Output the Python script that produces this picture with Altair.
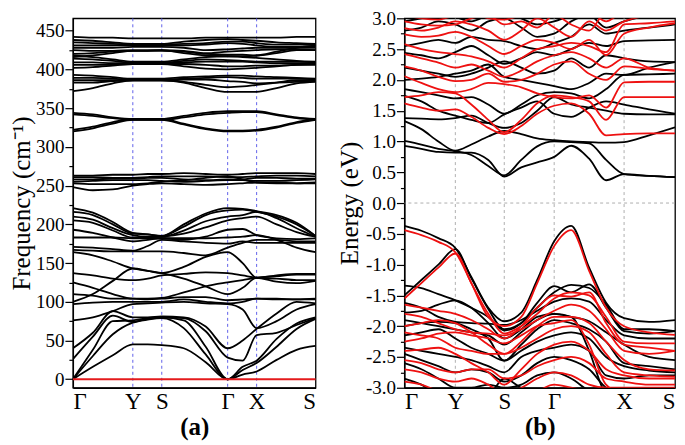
import altair as alt
import pandas as pd

FONT = "Liberation Serif"

# ---------------- phonon panel (a) ----------------
PH_K = [0, 20, 40, 60, 75, 89, 111, 133, 155, 170, 184, 204, 224, 243]
PH_TICKS = [0, 60, 89, 155, 184, 243]
PH_LABELS = ["Γ", "Y", "S", "Γ", "X", "S"]

phonon_low = [
    [0, 16, 31, 45, 45, 44, 40, 22, 0, 6, 10, 25, 38, 43],
    [0, 30, 58, 73, 77, 79, 66, 32, 0, 12, 21, 42, 65, 78],
    [0, 38, 75, 76, 79, 80, 76, 42, 0, 16, 24, 52, 72, 80],
    [26, 55, 82, 74, 78, 80, 79, 62, 28, 24, 57, 60, 70, 79],
    [40, 60, 88, 80, 80, 81, 80, 68, 40, 50, 65, 85, 100, 98],
    [76, 80, 88, 97, 98, 99, 100, 98, 97, 90, 66, 75, 90, 97],
    [97, 99, 100, 100, 100, 100, 103, 100, 98, 100, 104, 104, 103, 103],
    [100, 110, 127, 143, 140, 137, 130, 120, 110, 118, 131, 126, 124, 127],
    [110, 108, 104, 104, 103, 104, 106, 106, 102, 103, 104, 103, 103, 104],
    [125, 118, 110, 104, 104, 105, 112, 120, 125, 128, 131, 133, 135, 135],
    [137, 134, 130, 128, 130, 134, 136, 138, 137, 134, 131, 130, 128, 128],
    [164, 160, 152, 143, 140, 137, 145, 158, 164, 150, 131, 134, 136, 136],
    [167, 166, 165, 165, 165, 165, 163, 160, 170, 176, 180, 180, 178, 178],
    [171, 170, 168, 166, 172, 180, 178, 176, 175, 178, 176, 176, 176, 176],
    [183, 183, 183, 182, 182, 182, 182, 182, 183, 184, 186, 180, 170, 164],
    [193, 189, 183, 178, 180, 182, 180, 184, 193, 194, 186, 182, 181, 182],
    [205, 202, 192, 183, 183, 184, 188, 196, 205, 208, 210, 200, 190, 184],
    [210, 206, 195, 186, 184, 184, 192, 204, 210, 212, 216, 208, 195, 184],
    [216, 212, 200, 188, 187, 185, 197, 212, 218, 219, 216, 210, 200, 185],
    [221, 215, 203, 189, 187, 185, 200, 214, 221, 220, 217, 212, 202, 185],
]
phonon_mid = [
    [344, 342, 338, 336, 336, 336, 340, 344, 346, 346, 346, 342, 338, 336],
    [342, 340, 337, 335, 335, 335, 338, 342, 344, 345, 345, 341, 337, 335],
    [322, 326, 332, 336, 336, 336, 330, 324, 321, 321, 322, 326, 332, 336],
    [320, 324, 330, 335, 335, 335, 329, 323, 320, 320, 321, 325, 331, 335],
    [263, 263, 264, 264, 265, 265, 266, 265, 264, 265, 266, 266, 266, 265],
    [261, 261, 260, 260, 261, 262, 262, 262, 261, 261, 262, 263, 263, 262],
    [258, 258, 259, 259, 260, 260, 258, 257, 258, 258, 260, 260, 259, 259],
    [255, 256, 257, 257, 257, 256, 255, 256, 257, 257, 256, 256, 257, 258],
    [253, 252, 252, 252, 253, 255, 257, 260, 262, 258, 254, 253, 253, 254],
    [248, 244, 245, 250, 252, 253, 252, 251, 252, 253, 254, 254, 253, 253],
]
phonon_high = [
    [372, 376, 382, 386, 386, 386, 383, 376, 371, 371, 371, 376, 382, 384],
    [383, 383, 385, 386, 386, 386, 384, 380, 377, 378, 380, 383, 386, 386],
    [386, 386, 386, 386, 386, 386, 387, 387, 385, 384, 382, 383, 384, 385],
    [389, 389, 388, 387, 387, 387, 388, 389, 390, 389, 388, 388, 388, 387],
    [393, 392, 390, 388, 388, 388, 390, 391, 392, 392, 391, 390, 389, 388],
    [402, 403, 405, 407, 407, 407, 404, 401, 400, 401, 402, 404, 406, 406],
    [406, 406, 406, 407, 407, 407, 407, 406, 404, 404, 405, 405, 406, 407],
    [409, 409, 408, 408, 408, 408, 409, 410, 410, 410, 409, 408, 408, 408],
    [414, 413, 411, 409, 409, 409, 411, 413, 412, 411, 410, 410, 410, 409],
    [418, 416, 413, 410, 410, 410, 413, 416, 417, 416, 415, 413, 411, 410],
    [442, 441, 441, 440, 440, 440, 440, 441, 441, 441, 441, 441, 442, 442],
    [438, 437, 435, 433, 433, 433, 436, 438, 439, 438, 437, 435, 434, 433],
    [435, 434, 433, 432, 432, 432, 433, 434, 436, 436, 434, 432, 432, 432],
    [431, 431, 431, 431, 431, 431, 431, 432, 434, 433, 431, 429, 429, 430],
    [428, 428, 428, 429, 429, 429, 428, 425, 426, 427, 428, 428, 428, 428],
    [425, 424, 424, 425, 425, 425, 424, 421, 423, 424, 425, 426, 426, 425],
    [420, 421, 423, 424, 424, 424, 423, 420, 419, 419, 418, 421, 425, 425],
    [416, 418, 421, 424, 424, 425, 421, 418, 417, 417, 418, 423, 428, 431],
]
acoustic_k = [0, 243]
acoustic_v = [0, 0]
PH_YTICKS = list(range(0, 451, 25))

# ---------------- electronic panel (b) ----------------
EL_K = [0, 17, 34, 51, 67, 84, 100, 117, 133, 150, 167, 185, 202, 220, 245, 271]
EL_TICKS = [0, 51, 100, 150, 220, 271]
EL_LABELS = ["Γ", "Y", "S", "Γ", "X", "S"]

black_cond = [
    [0.93, 0.88, 0.83, 0.82, 0.82, 0.70, 0.43, 0.58, 0.66, 0.75, 0.93, 0.72, 0.37, 0.47, 0.44, 0.42],
    [1.01, 0.95, 0.88, 0.84, 0.78, 0.60, 0.45, 0.70, 0.92, 1.00, 0.99, 0.97, 0.70, 0.47, 0.44, 0.42],
    [1.33, 1.20, 1.00, 0.85, 0.95, 1.08, 1.17, 1.12, 1.05, 1.02, 1.00, 0.99, 0.98, 0.99, 1.10, 1.23],
    [1.38, 1.37, 1.36, 1.38, 1.42, 1.30, 1.22, 1.30, 1.50, 1.72, 1.60, 1.55, 1.50, 1.45, 1.44, 1.44],
    [1.74, 1.65, 1.50, 1.42, 1.35, 1.30, 1.44, 1.55, 1.65, 1.45, 1.40, 1.55, 1.65, 1.60, 1.52, 1.45],
    [1.85, 1.80, 1.75, 1.70, 1.72, 1.60, 1.45, 1.60, 1.75, 1.80, 1.78, 1.70, 1.85, 2.08, 2.09, 2.10],
    [2.00, 2.02, 2.05, 2.10, 2.15, 2.25, 2.05, 2.00, 1.95, 1.90, 1.85, 1.95, 2.10, 2.08, 2.20, 2.29],
    [2.20, 2.15, 2.10, 2.05, 2.10, 2.20, 2.30, 2.20, 2.10, 2.15, 2.35, 2.20, 2.40, 2.35, 2.30, 2.29],
    [2.44, 2.40, 2.35, 2.45, 2.55, 2.40, 2.26, 2.35, 2.45, 2.40, 2.50, 2.60, 2.55, 2.63, 2.64, 2.65],
    [2.55, 2.60, 2.65, 2.60, 2.70, 2.65, 2.63, 2.55, 2.50, 2.60, 2.70, 2.90, 2.75, 2.80, 2.85, 2.90],
    [2.80, 2.85, 2.95, 2.90, 2.80, 2.95, 3.00, 2.85, 2.70, 2.75, 2.95, 3.05, 2.85, 2.95, 3.05, 3.10],
    [2.95, 3.00, 3.05, 3.02, 2.95, 3.05, 3.10, 3.00, 2.90, 2.95, 3.05, 3.10, 3.05, 3.10, 3.10, 3.10],
]
black_val = [
    [-0.37, -0.45, -0.57, -0.73, -1.20, -1.70, -1.92, -1.78, -1.25, -0.62, -0.37, -1.05, -1.62, -1.87, -1.93, -1.90],
    [-1.50, -1.25, -1.00, -0.75, -1.22, -1.72, -2.05, -1.95, -1.70, -1.45, -1.33, -1.38, -1.65, -2.05, -2.05, -2.08],
    [-1.34, -1.38, -1.48, -1.58, -1.70, -1.85, -2.07, -1.95, -1.62, -1.35, -1.45, -1.32, -1.70, -2.08, -2.12, -2.08],
    [-1.62, -1.70, -1.85, -1.93, -1.95, -1.96, -1.98, -1.90, -1.75, -1.60, -1.55, -1.60, -1.90, -2.15, -2.20, -2.20],
    [-1.78, -1.75, -1.65, -1.58, -1.70, -1.95, -2.20, -2.05, -1.85, -1.80, -1.85, -1.92, -2.10, -2.30, -2.50, -2.55],
    [-2.00, -1.95, -1.93, -1.95, -2.05, -2.20, -2.56, -2.30, -2.05, -1.90, -1.95, -2.05, -2.25, -2.60, -2.65, -2.70],
    [-2.15, -2.10, -2.05, -2.20, -2.35, -2.45, -2.56, -2.40, -2.25, -2.15, -2.10, -2.20, -2.50, -2.65, -2.72, -2.75],
    [-2.35, -2.40, -2.45, -2.50, -2.55, -2.65, -2.75, -2.50, -2.40, -2.35, -2.30, -2.40, -2.80, -2.85, -2.80, -2.80],
    [-2.45, -2.55, -2.65, -2.75, -2.70, -2.75, -2.90, -2.80, -2.60, -2.50, -2.55, -2.70, -3.00, -3.10, -3.10, -3.10],
    [-2.60, -2.70, -2.85, -3.00, -3.00, -2.95, -3.00, -2.95, -2.80, -2.75, -2.85, -3.05, -3.15, -3.20, -3.20, -3.20],
    [-2.85, -2.95, -3.10, -3.10, -3.10, -3.10, -2.85, -3.00, -3.10, -3.10, -3.10, -3.20, -3.25, -3.25, -3.25, -3.25],
    [-1.90, -1.95, -2.00, -2.05, -2.10, -2.15, -2.30, -2.10, -1.90, -1.80, -1.85, -2.40, -3.10, -3.20, -3.20, -3.20],
]
red_cond = [
    [1.62, 1.55, 1.50, 1.52, 1.40, 1.22, 1.12, 1.25, 1.45, 1.58, 1.62, 1.45, 1.10, 1.12, 1.13, 1.13],
    [1.72, 1.75, 1.80, 1.78, 1.60, 1.35, 1.15, 1.35, 1.62, 1.75, 1.72, 1.65, 1.35, 1.72, 1.72, 1.72],
    [2.06, 1.95, 1.85, 1.80, 1.85, 1.95, 1.93, 1.88, 1.78, 1.72, 1.70, 1.75, 1.55, 1.96, 1.97, 1.97],
    [2.22, 2.15, 2.05, 1.98, 2.00, 2.10, 1.97, 2.00, 2.10, 2.25, 2.30, 2.10, 2.00, 2.22, 2.18, 2.15],
    [2.42, 2.35, 2.28, 2.20, 2.25, 2.15, 2.05, 2.15, 2.30, 2.40, 2.45, 2.35, 2.20, 2.35, 2.20, 2.15],
    [2.58, 2.50, 2.45, 2.42, 2.38, 2.30, 2.20, 2.35, 2.50, 2.55, 2.60, 2.55, 2.45, 2.90, 2.92, 2.95],
    [2.74, 2.70, 2.72, 2.78, 2.70, 2.55, 2.42, 2.55, 2.65, 2.60, 2.50, 2.65, 2.40, 2.75, 2.85, 2.92],
    [2.84, 2.80, 2.85, 2.95, 2.90, 2.80, 2.65, 2.80, 3.00, 2.85, 2.70, 2.95, 2.80, 2.95, 3.05, 3.10],
    [2.95, 2.90, 2.88, 2.90, 3.00, 3.05, 2.90, 2.95, 2.85, 3.05, 2.90, 2.80, 3.10, 3.10, 3.10, 3.10],
    [3.05, 3.00, 2.98, 3.05, 3.10, 3.00, 2.98, 3.05, 3.10, 3.10, 3.05, 3.10, 2.95, 3.10, 3.10, 3.10],
]
red_val = [
    [-0.44, -0.52, -0.63, -0.80, -1.30, -1.85, -2.00, -1.85, -1.30, -0.70, -0.44, -1.10, -1.70, -2.00, -2.10, -2.14],
    [-1.55, -1.30, -1.05, -0.82, -1.30, -1.80, -2.12, -2.00, -1.80, -1.55, -1.45, -1.50, -1.85, -2.25, -2.28, -2.28],
    [-1.65, -1.70, -1.75, -1.80, -1.90, -2.05, -2.20, -2.00, -1.70, -1.50, -1.52, -1.45, -1.95, -2.30, -2.35, -2.40],
    [-1.80, -1.85, -1.95, -2.05, -2.10, -2.12, -2.15, -2.05, -1.90, -1.75, -1.65, -1.75, -2.05, -2.40, -2.45, -2.40],
    [-2.00, -1.95, -1.90, -1.95, -2.10, -2.30, -2.45, -2.25, -2.00, -1.85, -1.85, -1.95, -2.25, -2.55, -2.70, -2.72],
    [-2.10, -2.15, -2.20, -2.35, -2.40, -2.45, -2.45, -2.35, -2.20, -2.05, -2.00, -2.10, -2.45, -2.75, -2.80, -2.82],
    [-2.40, -2.38, -2.35, -2.45, -2.60, -2.75, -2.95, -2.70, -2.45, -2.30, -2.25, -2.40, -2.70, -2.80, -2.85, -2.85],
    [-2.55, -2.60, -2.70, -2.75, -2.70, -2.70, -2.85, -2.80, -2.65, -2.55, -2.50, -2.60, -2.85, -2.90, -2.95, -2.95],
    [-2.70, -2.75, -2.85, -2.90, -2.85, -2.95, -3.10, -3.00, -2.85, -2.75, -2.80, -2.95, -3.00, -3.00, -3.00, -3.00],
    [-2.90, -2.95, -3.05, -3.10, -3.05, -3.10, -3.20, -3.10, -3.05, -2.95, -3.00, -3.05, -3.10, -3.10, -3.10, -3.10],
    [-2.25, -2.20, -2.12, -2.10, -2.15, -2.20, -2.28, -2.15, -2.00, -1.95, -1.90, -2.30, -2.95, -3.10, -3.10, -3.10],
]
EL_YTICKS = [round(-3 + 0.25 * i, 2) for i in range(25)]
fermi_level = [0.0]


def band_frame(k, bands, prefix):
    rows = []
    for i, vals in enumerate(bands):
        for kk, vv in zip(k, vals):
            rows.append({"k": kk, "v": vv, "band": f"{prefix}{i}"})
    return pd.DataFrame(rows)


def label_expr(ticks, labels):
    expr = "''"
    for t, l in reversed(list(zip(ticks, labels))):
        expr = f"abs(datum.value - {t}) < 0.5 ? '{l}' : ({expr})"
    return expr


# ---------- panel (a) ----------
xa = alt.X(
    "k:Q",
    scale=alt.Scale(domain=[PH_K[0], PH_K[-1]], nice=False, zero=False),
    axis=alt.Axis(values=PH_TICKS, labelExpr=label_expr(PH_TICKS, PH_LABELS),
                  ticks=False, grid=False, labelOverlap=False, labelFontSize=23,
                  labelPadding=3, title="(a)", titleFontSize=25,
                  titleFontWeight="bold", titlePadding=1),
)
ya = alt.Y(
    "v:Q",
    scale=alt.Scale(domain=[-11, 466], nice=False, zero=False),
    axis=alt.Axis(values=PH_YTICKS,
                  labelExpr="datum.value % 50 === 0 ? datum.label : ''",
                  tickSize={"condition": {"test": "datum.value % 50 === 0", "value": 8}, "value": 4},
                  grid=False, labelOverlap=False, labelFontSize=19, labelPadding=1,
                  title="Frequency (cm⁻¹)", titleFontSize=25,
                  titleFontWeight="normal", titlePadding=1),
)

ph_df = pd.concat([
    band_frame(PH_K, phonon_low, "lo"),
    band_frame(PH_K, phonon_mid, "mi"),
    band_frame(PH_K, phonon_high, "hi"),
])
ph_vlines = alt.Chart(pd.DataFrame({"k": PH_TICKS[1:-1]})).mark_rule(
    color="#5050e8", strokeDash=[3, 3], strokeWidth=0.9).encode(x=xa)
ph_lines = alt.Chart(ph_df).mark_line(
    color="black", strokeWidth=1.8, interpolate="monotone", clip=True
).encode(x=xa, y=ya, detail="band:N")
ph_zero = alt.Chart(pd.DataFrame({"k": acoustic_k, "v": acoustic_v})).mark_line(
    color="#e41a1c", strokeWidth=2).encode(x=xa, y=ya)

left = alt.layer(ph_vlines, ph_lines, ph_zero).properties(width=243, height=370)

# ---------- panel (b) ----------
xb = alt.X(
    "k:Q",
    scale=alt.Scale(domain=[EL_K[0], EL_K[-1]], nice=False, zero=False),
    axis=alt.Axis(values=EL_TICKS, labelExpr=label_expr(EL_TICKS, EL_LABELS),
                  ticks=False, grid=False, labelOverlap=False, labelFontSize=23,
                  labelPadding=3, title="(b)", titleFontSize=25,
                  titleFontWeight="bold", titlePadding=1),
)
yb = alt.Y(
    "v:Q",
    scale=alt.Scale(domain=[-3, 3], nice=False, zero=False),
    axis=alt.Axis(values=EL_YTICKS,
                  labelExpr="abs(datum.value*2 - round(datum.value*2)) < 0.001 ? "
                            "(datum.value < -0.001 ? '-' : '') + format(abs(datum.value), '.1f') : ''",
                  tickSize={"condition": {"test": "abs(datum.value*2 - round(datum.value*2)) < 0.001",
                                          "value": 8}, "value": 4},
                  grid=False, labelOverlap=False, labelFontSize=19, labelPadding=1,
                  title="Energy (eV)", titleFontSize=25,
                  titleFontWeight="normal", titlePadding=3),
)

el_vlines = alt.Chart(pd.DataFrame({"k": EL_TICKS[1:-1]})).mark_rule(
    color="#9a9a9a", strokeDash=[3, 3], strokeWidth=0.8).encode(x=xb)
el_hline = alt.Chart(pd.DataFrame({"v": fermi_level})).mark_rule(
    color="#9a9a9a", strokeDash=[3, 3], strokeWidth=0.8).encode(y=yb)
black_df = pd.concat([band_frame(EL_K, black_cond, "bc"), band_frame(EL_K, black_val, "bv")])
red_df = pd.concat([band_frame(EL_K, red_cond, "rc"), band_frame(EL_K, red_val, "rv")])
el_black = alt.Chart(black_df).mark_line(
    color="black", strokeWidth=1.8, interpolate="monotone", clip=True
).encode(x=xb, y=yb, detail="band:N")
el_red = alt.Chart(red_df).mark_line(
    color="#ee1111", strokeWidth=1.8, interpolate="monotone", clip=True
).encode(x=xb, y=yb, detail="band:N")

right = alt.layer(el_vlines, el_hline, el_black, el_red).properties(width=271, height=370)

chart = alt.hconcat(left, right, spacing=16).properties(
    padding={"left": 0, "top": 0, "right": 0, "bottom": 0}
).configure_view(stroke="black", strokeWidth=1.3).configure_axis(
    domainColor="black", domainWidth=1.3, tickColor="black", tickWidth=1.2,
    labelColor="black", titleColor="black", labelFont=FONT, titleFont=FONT,
)

chart.save("out.html", embed_options={"renderer": "svg", "actions": False})
